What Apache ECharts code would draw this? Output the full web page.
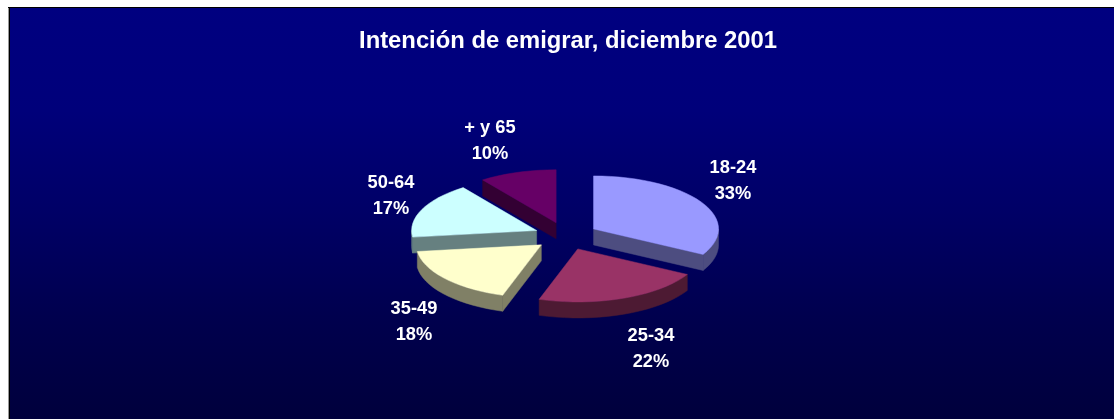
<!DOCTYPE html>
<html><head><meta charset="utf-8">
<style>html,body{margin:0;padding:0;background:#fff}#c{width:1114px;height:419px}</style>
<script src="https://cdn.jsdelivr.net/npm/echarts@6/dist/echarts.min.js"></script>
</head><body><div id="c"></div>
<script>
const categories = ['18-24', '25-34', '35-49', '50-64', '+ y 65'];
const shares = [33, 22, 18, 17, 10];
const faceColors = ['#9999FF', '#993366', '#FFFFCC', '#CCFFFF', '#660066'];
const sideColors = ['#4D4D80', '#4D1A33', '#808066', '#668080', '#330033'];
const titleText = 'Intención de emigrar, diciembre 2001';

// layout of the tilted pie
const cx = 566, cy = 236, rx = 125, ry = 53, depth = 16, explodeX = 32, explodeY = 13.9;
const labelOffsets = [[167, -55], [85, 113], [-152, 86], [-175, -40], [-76, -95]];
const paintOrder = [3, 5, 4, 2, 1];
const total = shares.reduce((a, b) => a + b, 0);
const rad = d => d * Math.PI / 180;

const chart = echarts.init(document.getElementById('c'), null, {renderer: 'canvas'});

function pt(ax, ay, a, dz) {
  return [ax + rx * Math.sin(rad(a)), ay - ry * Math.cos(rad(a)) + (dz || 0)];
}
function arc(ax, ay, a0, a1, dz) {
  const n = Math.max(2, Math.ceil(Math.abs(a1 - a0) / 4)), out = [];
  for (let i = 0; i <= n; i++) out.push(pt(ax, ay, a0 + (a1 - a0) * i / n, dz));
  return out;
}
function poly(points, fill, z2) {
  return {type: 'polygon', shape: {points}, z2, style: {fill, stroke: fill, lineWidth: 0.5}};
}
function renderSlice(params, api) {
  const i = params.dataIndex;
  const start = shares.slice(0, i).reduce((a, b) => a + b, 0) / total * 360;
  const end = start + api.value(0) / total * 360;
  const mid = rad((start + end) / 2);
  const ax = cx + explodeX * Math.sin(mid), ay = cy - explodeY * Math.cos(mid);
  const z = paintOrder[i] * 10;
  const side = sideColors[i], kids = [];
  if (Math.sin(rad(start)) < -1e-6) {
    const e = pt(ax, ay, start);
    kids.push(poly([[ax, ay], e, [e[0], e[1] + depth], [ax, ay + depth]], side, z));
  }
  if (Math.sin(rad(end)) > 1e-6) {
    const e = pt(ax, ay, end);
    kids.push(poly([[ax, ay], e, [e[0], e[1] + depth], [ax, ay + depth]], side, z));
  }
  const w0 = Math.max(start, 90), w1 = Math.min(end, 270);
  if (w1 > w0) {
    kids.push(poly(arc(ax, ay, w0, w1, 0).concat(arc(ax, ay, w1, w0, depth)), side, z));
  }
  kids.push(poly([[ax, ay]].concat(arc(ax, ay, start, end, 0)), faceColors[i], z + 1));
  kids.push({
    type: 'text', z2: 100,
    style: {
      text: categories[i] + '\n' + api.value(0) + '%',
      x: cx + labelOffsets[i][0], y: cy + labelOffsets[i][1],
      fill: '#fff', font: 'bold 18.3px "Liberation Sans"', lineHeight: 26,
      align: 'center', verticalAlign: 'middle'
    }
  });
  return {type: 'group', children: kids};
}

chart.setOption({
  animation: false,
  backgroundColor: '#fff',
  title: {
    text: titleText, left: 563, top: 24, textAlign: 'center',
    textStyle: {color: '#fff', fontSize: 23.8, fontWeight: 'bold', fontFamily: '"Liberation Sans"'}
  },
  graphic: [
    {type: 'rect', z: -10, shape: {x: 8, y: 7, width: 1106, height: 412}, style: {fill: '#000'}},
    {type: 'rect', z: -10, shape: {x: 8, y: 8, width: 1, height: 411}, style: {fill: '#999'}},
    {type: 'rect', z: -10, shape: {x: 10, y: 8, width: 1104, height: 411},
      style: {fill: new echarts.graphic.LinearGradient(0, 0, 0, 1, [
        {offset: 0, color: '#000080'}, {offset: 0.25, color: '#00007A'},
        {offset: 0.5, color: '#000066'}, {offset: 0.75, color: '#00004E'},
        {offset: 1, color: '#00003C'}])}}
  ],
  series: [{
    type: 'custom', coordinateSystem: 'none', silent: true,
    data: shares.map(v => [v]),
    renderItem: renderSlice
  }]
});
</script></body></html>
